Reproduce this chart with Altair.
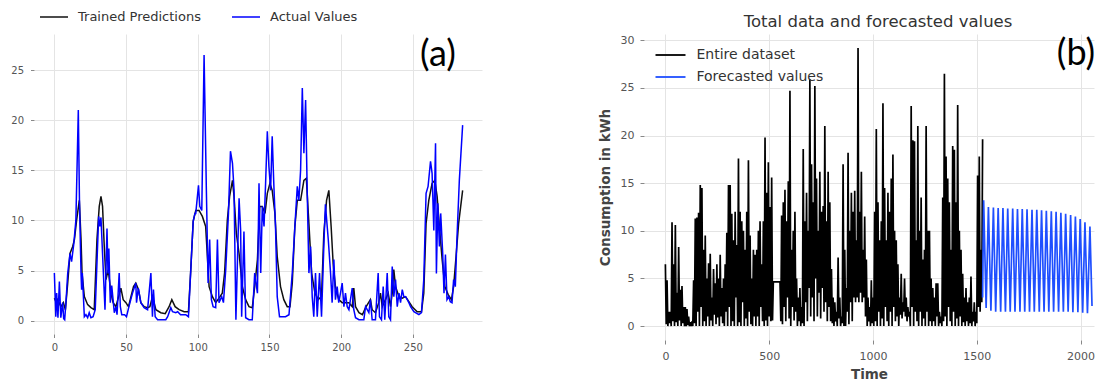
import altair as alt
import pandas as pd

FONT = "DejaVu Sans"

# ---------------- panel (a): trained predictions vs actual values ----------------
a_pred_x = [0, 1.4, 2.3, 4.6, 6.3, 7.7, 9.3, 10.9, 12.8, 14, 15.5, 17.4, 18.6, 19.3, 20.9, 23.2, 25.5, 27.8,
            29.7, 31.3, 32.5, 33.6, 34.8, 36, 37.6, 39.4, 41, 42.9, 46.4, 48, 49.9, 51.7, 53.4, 55.2, 56.8,
            58.7, 60.3, 62.6, 65, 66.6, 68.4, 70.8, 74.2, 77.3, 80, 81.9, 84.2, 87, 90.5, 93.5, 95, 96.8,
            98.6, 100.9, 103.2, 105.5, 106.7, 107.9, 110.2, 112.5, 114.8, 117.1, 118.7, 120.6, 122.2, 124.2,
            125.3, 126.9, 128.8, 131.1, 133.4, 135.7, 138, 139.7, 141.6, 143.2, 145, 146.9, 148.5, 150.3,
            151.9, 153.8, 155.4, 157.7, 160, 162.4, 164.3, 165.9, 167.7, 169.4, 171.7, 174, 175.7, 177.5,
            179.4, 181.7, 184, 186.3, 187.9, 189.8, 191.4, 193, 194.4, 196, 198.3, 200.7, 203, 205.4, 207.7,
            208.8, 210, 212.4, 214.8, 217, 220.4, 221.6, 223.9, 226.2, 227.4, 228.6, 230.9, 232.8, 234.4,
            235.6, 236.7, 237.9, 240.3, 242.6, 244.9, 247.2, 249.5, 253, 256, 257.6, 259.2, 261.1, 263.4,
            265.3, 266.9, 268.5, 270.4, 272.3, 274.6, 276.9, 278.4, 280.1, 281.9, 284.7]
a_pred_y = [2.25, 1.8, 2.1, 1.4, 1.8, 1.1, 3.75, 6.7, 7.4, 8.1, 10, 12, 8.1, 4.75, 2.4, 1.6, 1.3, 1.1,
            8.1, 11.4, 12.4, 11.4, 7.4, 4.1, 5.1, 2.75, 1.8, 1.4, 3.25, 2.1, 1.8, 1.4, 2.4, 3.4, 3.75,
            3.1, 1.8, 1.4, 1.3, 1.4, 2.4, 1.1, 0.8, 0.7, 1.4, 2.1, 1.4, 1.1, 0.9, 0.9, 4.75, 9.9,
            11, 11, 10.4, 9.4, 6.4, 3.4, 2.4, 1.8, 2.25, 2.75, 4.75, 10, 12.4, 14,
            12.4, 8.7, 6.7, 3.4, 2.1, 1.4, 1.3, 3.4, 6.1, 11.4, 11.4, 10.7, 12.7, 13.7,
            13, 10.7, 6.4, 3.4, 2.1, 1.4, 1.4, 3.75, 9.4, 12, 12, 14, 14.2, 9.7,
            4.75, 2.75, 2.1, 2.4, 8.7, 12, 13, 9.4, 5.7, 3.4, 2.1, 1.8, 1.8, 1.8, 1.4,
            3.25, 1.4, 0.8, 0.6, 1.3, 2.1, 1.1, 0.8, 1.8, 2.75, 1.4, 2.1, 2.75, 1.4,
            2.75, 5.1, 3.4, 2.4, 2.25, 2.4, 1.9, 1.4, 0.9, 0.9, 2.75, 9.7, 12, 13.7,
            14, 12.4, 9.4, 6.1, 3.4, 2.6, 2.1, 3.4, 6.4, 9.7, 13]

a_act_x = [0, 1, 1.6, 2.5, 3.5, 4.5, 5.8, 6.5, 7.2, 8.2, 9.3, 10.9, 12, 13.5, 15, 16.7, 17.5, 18.6, 19,
           19.5, 20.9, 22, 23.2, 24.3, 25.5, 27, 28.5, 30.9, 31.7, 32.5, 35.3, 36.7, 37.4, 38, 39, 40,
           41.8, 43, 43.7, 45.2, 46, 47, 49, 50.3, 52, 54.5, 56.8, 57.3, 58.5, 60.3, 62.6, 65, 67.3,
           68.4, 69.1, 70.3, 72, 77.7, 79, 81.2, 82.4, 84.7, 86, 88, 91.6, 93.5, 96.8, 98, 98.6, 100.5,
           101.4, 102.8, 104.4, 106, 107.2, 108.3, 109.5, 110.7, 112.5, 113.7, 114.8, 116.7, 117.9,
           119.5, 121.4, 122.8, 124.2, 125.3, 126.6, 128.8, 129.9, 130.6, 132.2, 133.4, 135.7, 138,
           139.7, 141.6, 142.7, 143.9, 145, 146.2, 147.3, 148.5, 149.6, 150.8, 151.9, 153, 154.2, 155.4,
           157, 161.2, 163.6, 165.9, 167.7, 169.4, 170.5, 171.7, 172.9, 174, 175.2, 176.3, 177.5, 178.7,
           179.8, 180.9, 182.1, 183.3, 184.9, 186.3, 187.9, 189, 191, 192.6, 193.7, 194.9, 196, 197.2,
           198.3, 199.5, 200.7, 201.9, 203, 204.2, 205.4, 207.7, 208.8, 210, 212.4, 215.8, 217, 219.3,
           220.4, 221.6, 223.9, 225.8, 226.7, 228.1, 229.3, 230.4, 232.1, 233.2, 234.4, 235.6, 236.7,
           237.9, 239.1, 240.3, 241.4, 242.6, 243.7, 244.9, 246.1, 247.2, 248.4, 250.7, 254.2, 256,
           257.6, 259.2, 260.6, 262.3, 263.4, 264.6, 265.8, 266.4, 267.4, 268.5, 269.4, 270.8, 271.7,
           272.7, 273.8, 275, 276.1, 277.3, 278.4, 279.6, 280.7, 282.4, 284.7]
a_act_y = [4.75, 0.4, 2.75, 0.3, 3.9, 0.3, 1.8, 0.2, 0.1, 2.1, 4.7, 6.7, 5.9, 7.6, 10, 21, 12, 4.7, 3.1,
           4.75, 0.4, 0.6, 0.3, 0.8, 0.3, 0.4, 1.1, 10.4, 9.4, 10.3, 1.1, 9.2, 4.7, 7.2, 1.8, 3.5,
           0.8, 1.4, 0.6, 4.75, 1.4, 0.6, 0.6, 0.4, 1.4, 2.75, 3.75, 1.8, 3.25, 1.8, 1.3, 1.1, 4.75,
           0.4, 3.1, 0.4, 0.1, 0.1, 0.4, 1.3, 0.9, 0.8, 0.9, 0.6, 0.6, 0.4, 9.9, 10.7, 10.7, 13.5,
           11.4, 11, 26.5, 13, 3.75, 8.1, 2.1, 1.4, 1.3, 8.1, 1.8, 2.4, 1.8,
           5.1, 10.7, 16.9, 15.7, 13, 0.1, 12.2, 9, 0.4, 8.9, 0.3, 0.1, 0.1,
           4.75, 2.75, 13.7, 4.75, 11.4, 9.4, 13.7, 18.9, 15.4, 13, 18.4, 13.7, 9.4, 2.4,
           0.4, 0.4, 0.6, 4.75, 9.4, 13.4, 12, 15, 23.2, 16.7, 22, 13, 4.75, 7.4,
           2.4, 0.4, 4.75, 0.4, 4.75, 0.4, 7.4, 11.6, 8.1, 4.75, 1.8, 6.1, 2.1, 3.4,
           1.8, 2.75, 3.75, 1.4, 2.75, 1.4, 1.1, 3.25, 1.1, 0.3, 0.1, 0.1, 1.4, 0.8,
           2.1, 0.1, 0.1, 4.75, 0.4, 0.1, 3.4, 0.1, 4.75, 0.4, 0.1, 5.4, 2.4,
           4.1, 1.4, 2.75, 1.8, 3.1, 2.4, 2.4, 2.1, 1.8, 1.4, 0.9, 0.6, 0.8,
           4.1, 12.7, 13.4, 15.9, 14.7, 9, 17.7, 4.7, 11.7, 7.4, 10.7, 6.7, 2.75,
           6.6, 2.1, 2.4, 1.9, 1.8, 4.1, 3.4, 8.1, 14, 19.5]

a_series = ["Trained Predictions", "Actual Values"]
a_colors = ["#111111", "#0000ff"]
a_x_ticks = [0, 50, 100, 150, 200, 250]
a_y_ticks = [0, 5, 10, 15, 20, 25]

# ---------------- panel (b): entire dataset + forecast ----------------
# hourly consumption, sampled: peaks at t = 0, 8, 16, ... and troughs at t = 4, 12, 20, ...
b_hist_peaks = [
    6.5, 4.8, 1.5, 1.5, 10.9, 6.5, 10.6, 3.5, 8.3, 3.8,
    4.2, 2.0, 2.0, 1.8, 1.0, 0.4, 0.5, 4.8, 11.3, 11.4,
    11.9, 14.8, 14.5, 8.0, 9.5, 5.0, 6.6, 7.6, 3.0, 6.0,
    4.5, 6.5, 5.0, 7.5, 4.0, 5.0, 6.5, 9.8, 14.8, 14.8,
    11.8, 9.0, 12.0, 8.5, 17.6, 12.0, 11.0, 10.0, 8.0, 12.0,
    17.4, 9.5, 5.0, 8.0, 7.5, 8.0, 10.0, 11.0, 6.5, 11.0,
    19.8, 14.0, 17.2, 12.5, 15.6, 4.65, 4.65, 4.65, 4.65, 4.65,
    11.6, 13.0, 14.3, 11.0, 15.2, 24.7, 8.0, 10.0, 12.0, 5.0,
    3.0, 4.0, 2.0, 18.6, 11.0, 14.0, 10.0, 25.9, 17.0, 13.0,
    25.2, 15.5, 10.0, 16.2, 12.0, 12.6, 21.0, 11.0, 16.2, 13.0,
    6.0, 3.0, 2.5, 1.5, 7.2, 3.0, 1.0, 17.0, 8.0, 4.0,
    18.2, 10.0, 14.0, 12.0, 14.2, 9.0, 29.2, 12.0, 16.2, 8.0,
    11.5, 7.0, 3.0, 2.0, 4.8, 3.0, 12.0, 20.7, 13.0, 9.0,
    11.0, 23.4, 14.5, 9.0, 14.0, 12.0, 15.5, 18.0, 10.0, 9.0,
    6.5, 3.0, 5.5, 2.5, 5.0, 3.0, 2.0, 1.5, 23.1, 19.5,
    19.4, 9.0, 21.0, 10.0, 13.5, 7.0, 8.0, 21.0, 10.0, 10.0,
    5.0, 4.0, 3.0, 4.5, 4.5, 1.5, 1.0, 13.5, 26.5, 17.8,
    15.5, 13.0, 8.0, 18.9, 18.5, 13.0, 23.2, 10.0, 8.0, 5.5,
    3.0, 4.0, 2.5, 3.0, 5.2, 1.5, 2.5, 1.5, 15.8, 17.8,
    8.0, 19.6]
b_hist_lows = [
    0.2, 0.0, 0.3, 0.0, 0.5, 0.0, 0.4, 0.0, 0.6, 0.0, 0.3, 0.0, 0.0, 0.1, 0.0, 0.0,
    0.0, 0.3, 0.0, 1.5, 0.0, 2.0, 0.0, 0.5, 0.0, 1.0, 0.0, 0.6, 0.0, 1.2, 0.2, 0.9,
    0.0, 1.0, 0.3, 0.0, 1.5, 0.0, 2.0, 0.0, 0.5, 0.0, 3.0, 0.0, 0.4, 0.0, 2.5, 0.0,
    0.8, 0.0, 1.5, 0.2, 0.0, 1.0, 0.0, 1.0, 0.0, 2.0, 0.5, 0.0, 0.6, 0.0, 1.0, 0.5, 0.6,
    4.65, 4.65, 4.65, 4.65,
    0.5, 0.2, 2.0, 0.5, 3.0, 0.8, 0.0, 2.0, 0.6, 1.5, 0.0, 0.5, 0.0, 0.3, 0.0, 2.5,
    0.5, 4.0, 1.0, 3.0, 0.5, 5.0, 1.0, 3.5, 0.8, 4.0, 1.5, 2.5, 0.5, 2.0, 0.5,
    0.3, 0.0, 0.5, 0.0, 0.8, 0.0, 0.3, 0.0, 0.0, 1.5, 0.2, 2.5, 0.5, 3.0, 2.5, 3.0,
    2.5, 3.5, 2.5, 3.0, 1.0, 0.0, 0.5, 0.0, 0.3, 0.0,
    0.5, 0.0, 1.5, 0.0, 0.8, 0.0, 2.0, 0.5, 0.0, 1.5, 0.0, 2.0, 0.5, 1.0, 0.0, 1.2,
    0.8, 1.5, 1.0, 0.5, 1.0, 0.0, 2.0, 0.0, 1.5, 0.5, 0.0, 1.5, 0.0, 0.8, 0.0, 1.5,
    0.0, 0.5, 0.0, 0.5, 0.0, 1.0, 0.0, 0.3, 0.0,
    0.5, 1.0, 0.0, 2.0, 0.5, 0.0, 1.5, 0.0, 0.8, 0.0, 1.0, 0.0, 0.4, 0.0, 0.5, 0.0,
    0.3, 0.0, 0.5, 0.0, 0.3, 2.0, 1.5, 2.5]
b_step = 4

b_fc_x = [1528,
          1533, 1545, 1556, 1568, 1580, 1591, 1603, 1615, 1626, 1638, 1649, 1661, 1673, 1684,
          1696, 1708, 1719, 1731, 1742, 1754, 1766, 1777, 1789, 1801, 1812, 1824, 1835, 1847,
          1859, 1870, 1882, 1894, 1905, 1917, 1928, 1940, 1952, 1963, 1975, 1987, 1998, 2010,
          2021, 2033, 2045, 2055]
b_fc_y = [3.0,
          13.2, 1.9, 12.5, 1.6, 12.45, 1.5, 12.4, 1.5, 12.4, 1.5, 12.35, 1.5, 12.35, 1.5,
          12.3, 1.5, 12.3, 1.5, 12.25, 1.5, 12.2, 1.5, 12.2, 1.5, 12.15, 1.5, 12.1, 1.5,
          12.05, 1.5, 12.0, 1.5, 11.9, 1.5, 11.8, 1.5, 11.65, 1.45, 11.5, 1.45, 11.25, 1.4,
          10.9, 1.35, 10.45, 2.1]

b_series = ["Entire dataset", "Forecasted values"]
b_colors = ["#000000", "#1f4fff"]
b_x_ticks = [0, 500, 1000, 1500, 2000]
b_y_ticks = [0, 5, 10, 15, 20, 25, 30]

# ---------------- build tables ----------------
df_a = pd.DataFrame({
    "x": a_pred_x + a_act_x,
    "y": a_pred_y + a_act_y,
    "series": [a_series[0]] * len(a_pred_x) + [a_series[1]] * len(a_act_x),
})

hist_x, hist_y = [], []
for i, p in enumerate(b_hist_peaks):
    hist_x.append(i * 2 * b_step)
    hist_y.append(p)
    if i < len(b_hist_lows):
        hist_x.append(i * 2 * b_step + b_step)
        hist_y.append(b_hist_lows[i])

df_b = pd.DataFrame({
    "x": hist_x + b_fc_x,
    "y": hist_y + b_fc_y,
    "series": [b_series[0]] * len(hist_x) + [b_series[1]] * len(b_fc_x),
})

GRID = "#e4e4e4"
LBL = "#555555"
# a horizontal line twice as long as the nominal symbol box (keeps legend rows compact)
LINE_SYMBOL = "M-2,0L2,0"

# ---------------- panel (a) ----------------
A_W, A_H = 448, 300
a_color = alt.Color(
    "series:N",
    scale=alt.Scale(domain=a_series, range=a_colors),
    legend=alt.Legend(orient="none", legendX=12, legendY=-25, direction="horizontal",
                      title=None, symbolType=LINE_SYMBOL, symbolSize=196, symbolStrokeWidth=1.5,
                      labelFontSize=13, labelFont=FONT, labelColor="#333333", labelOffset=16,
                      columnPadding=28, padding=0, labelLimit=300),
)
a_x = alt.X("x:Q", scale=alt.Scale(domain=[-14.2, 298.2], nice=False, zero=False),
            axis=alt.Axis(values=a_x_ticks, title=None, labelFontSize=10, tickSize=3.5,
                          labelPadding=5, format="d", gridColor=GRID, tickColor="#888888",
                          labelColor=LBL, domain=False))
a_y = alt.Y("y:Q", scale=alt.Scale(domain=[-1.325, 28.59], nice=False, zero=False),
            axis=alt.Axis(values=a_y_ticks, title=None, labelFontSize=10, tickSize=3.5,
                          labelPadding=7, format="d", gridColor=GRID, tickColor="#888888",
                          labelColor=LBL, domain=False))
a_base = alt.Chart(df_a).mark_line(strokeWidth=1.5).encode(x=a_x, y=a_y, color=a_color)
a_lines = alt.layer(
    a_base.transform_filter(alt.datum.series == a_series[0]),
    a_base.transform_filter(alt.datum.series == a_series[1]),
)
a_label = alt.Chart(pd.DataFrame({"t": ["(a)"]})).mark_text(
    font="Lato", fontSize=36, color="#000000", align="center", baseline="middle"
).encode(x=alt.value(404), y=alt.value(21), text="t:N")
panel_a = alt.layer(a_lines, a_label).properties(width=A_W, height=A_H)

# ---------------- panel (b) ----------------
B_W, B_H = 450, 306
b_color = alt.Color(
    "series:N",
    scale=alt.Scale(domain=b_series, range=b_colors),
    legend=alt.Legend(orient="none", legendX=18, legendY=12.5, direction="vertical",
                      title=None, symbolType=LINE_SYMBOL, symbolSize=225, symbolStrokeWidth=1.8,
                      labelFontSize=14, labelFont=FONT, labelColor="#333333", labelOffset=17.5,
                      rowPadding=6, padding=0, labelLimit=300),
)
b_x = alt.X("x:Q", scale=alt.Scale(domain=[-103, 2064.6], nice=False, zero=False),
            axis=alt.Axis(values=b_x_ticks, title="Time", titleFontSize=13.5, titleFontWeight="bold",
                          titleColor="#444444", titlePadding=6, labelFontSize=11, tickSize=4,
                          labelPadding=6, format="d", gridColor=GRID, tickColor="#888888",
                          labelColor=LBL, domain=False))
b_y = alt.Y("y:Q", scale=alt.Scale(domain=[-1.46, 30.66], nice=False, zero=False),
            axis=alt.Axis(values=b_y_ticks, title="Consumption in kWh", titleFontSize=13.5,
                          titleFontWeight="bold", titleColor="#444444", titlePadding=8,
                          labelFontSize=11, tickSize=4, labelPadding=6, format="d",
                          gridColor=GRID, tickColor="#888888", labelColor=LBL, domain=False))
b_base = alt.Chart(df_b).mark_line(strokeWidth=1.7).encode(x=b_x, y=b_y, color=b_color)
b_lines = alt.layer(
    b_base.transform_filter(alt.datum.series == b_series[0]),
    b_base.transform_filter(alt.datum.series == b_series[1]),
)
b_label = alt.Chart(pd.DataFrame({"t": ["(b)"]})).mark_text(
    font="Lato", fontSize=36, color="#000000", align="center", baseline="middle"
).encode(x=alt.value(432), y=alt.value(20), text="t:N")
panel_b = alt.layer(b_lines, b_label).properties(
    width=B_W, height=B_H,
    title=alt.TitleParams("Total data and forecasted values", fontSize=16.5, font=FONT,
                          fontWeight="normal", color="#333333", offset=4, anchor="middle", dx=9),
)

chart = alt.hconcat(panel_a, panel_b, spacing=116).resolve_scale(
    color="independent"
).resolve_legend(
    color="independent"
).configure(
    font=FONT, padding={"left": 2, "top": 1, "right": 0, "bottom": 0}
).configure_view(stroke=None)

chart.save("out.html", embed_options={"renderer": "svg", "actions": False})
